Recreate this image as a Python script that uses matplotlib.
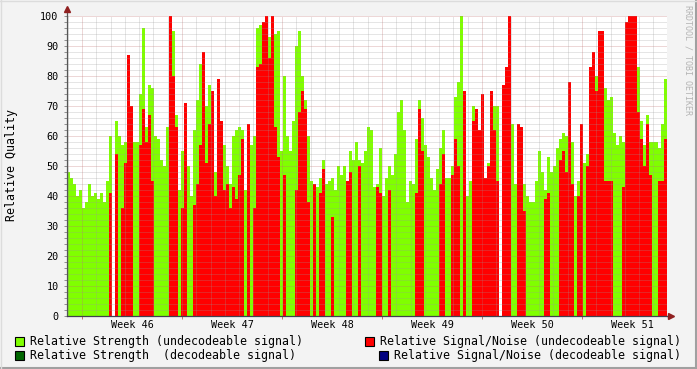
import numpy as np
import matplotlib.pyplot as plt
from matplotlib.patches import Rectangle

# one sample = 3 px of the original graph (about 5 hours)
strength = [
    48, 46, 44, 40, 42, 36, 38, 44, 40, 41,
    39, 41, 38, 45, 60, 0, 65, 60, 57, 58,
    77, 60, 58, 58, 74, 96, 63, 77, 76, 60,
    59, 52, 50, 63, 67, 95, 67, 42, 55, 68,
    50, 40, 62, 72, 84, 75, 70, 77, 74, 48,
    55, 60, 57, 50, 44, 60, 62, 63, 62, 42,
    58, 57, 60, 96, 97, 96, 93, 93, 90, 94,
    95, 55, 80, 60, 55, 65, 90, 95, 80, 72,
    60, 45, 44, 43, 46, 52, 44, 45, 46, 42,
    50, 47, 50, 45, 55, 52, 58, 52, 51, 55,
    63, 62, 43, 44, 56, 40, 46, 50, 47, 54,
    68, 72, 62, 38, 45, 44, 59, 72, 66, 57,
    53, 46, 42, 49, 56, 62, 46, 46, 50, 73,
    78, 100, 75, 40, 45, 70, 63, 60, 56, 45,
    51, 50, 70, 70, 0, 65, 60, 70, 64, 44,
    55, 47, 44, 40, 38, 38, 45, 55, 48, 42,
    53, 48, 50, 56, 59, 61, 60, 62, 58, 40,
    45, 60, 51, 54, 62, 78, 80, 80, 73, 76,
    72, 73, 61, 57, 60, 58, 60, 98, 99, 84,
    83, 65, 57, 67, 58, 58, 58, 56, 64, 79,
]
snr = [
    0, 0, 0, 0, 0, 0, 0, 0, 0, 0,
    0, 0, 0, 0, 41, 0, 54, 0, 36, 51,
    87, 70, 0, 0, 57, 69, 58, 67, 45, 0,
    0, 0, 0, 0, 100, 80, 63, 0, 36, 71,
    0, 0, 37, 44, 57, 88, 51, 64, 75, 40,
    79, 65, 42, 44, 36, 43, 39, 47, 59, 0,
    64, 0, 36, 83, 84, 98, 100, 86, 100, 63,
    53, 0, 47, 0, 0, 0, 42, 68, 75, 69,
    38, 0, 44, 0, 41, 49, 0, 0, 33, 0,
    0, 0, 0, 45, 48, 0, 0, 50, 0, 0,
    0, 0, 0, 43, 41, 0, 0, 42, 0, 0,
    0, 0, 0, 0, 0, 0, 41, 69, 55, 0,
    0, 0, 0, 0, 44, 54, 0, 0, 47, 59,
    50, 0, 75, 0, 0, 65, 69, 62, 74, 46,
    50, 75, 62, 45, 0, 77, 83, 100, 0, 0,
    64, 63, 35, 0, 0, 0, 0, 0, 0, 39,
    41, 0, 0, 0, 52, 55, 48, 78, 44, 0,
    40, 64, 0, 50, 83, 88, 75, 95, 95, 45,
    45, 45, 0, 0, 0, 43, 98, 100, 100, 100,
    68, 59, 50, 64, 47, 0, 0, 45, 45, 59,
]
week_labels = ['Week 46', 'Week 47', 'Week 48', 'Week 49', 'Week 50', 'Week 51']
legend_items = [
    ('Relative Strength (undecodeable signal)', '#80ff00'),
    ('Relative Strength  (decodeable signal)', '#006600'),
    ('Relative Signal/Noise (undecodeable signal)', '#ff0000'),
    ('Relative Signal/Noise (decodeable signal)', '#000080'),
]

start = -1.05   # days, relative to monday of week 46
step = 0.21     # days per sample

W, H = 697, 369
mono = 'DejaVu Sans Mono'
fig = plt.figure(figsize=(W / 100, H / 100), dpi=100, facecolor='#f3f3f3')
ax = fig.add_axes([67 / W, 53 / H, 600 / W, 300 / H])
ax.set_facecolor('white')

g = np.array(strength, dtype=float)
r = np.array(snr, dtype=float)
t = start + step * np.arange(len(g))
end = t[-1] + step

ax.bar(t, g, width=step, align='edge', color='#80ff00', linewidth=0,
       antialiased=False, zorder=2)
m = r > 0
ax.bar(t[m], r[m], width=step, align='edge', color='#ff0000', linewidth=0,
       antialiased=False, zorder=3)

ax.set_xlim(start, end)
ax.set_ylim(0, 100)

# rrdtool style dotted grid, drawn over the data
dot = (0, (1, 1))
for v in range(2, 101, 2):
    if v % 10:
        ax.axhline(v, color='#9a9a9a', alpha=0.5, lw=0.72, ls=dot, zorder=4)
for v in range(10, 101, 10):
    ax.axhline(v, color='#c07070', alpha=0.55, lw=0.72, ls=dot, zorder=4)
for d in range(-1, 42):
    if d % 7:
        ax.axvline(d, color='#9a9a9a', alpha=0.5, lw=0.72, ls=dot, zorder=4)
for d in range(0, 42, 7):
    ax.axvline(d, color='#c07070', alpha=0.55, lw=0.72, ls=dot, zorder=4)

for s in ['top', 'right']:
    ax.spines[s].set_visible(False)
ax.spines['left'].set_color('#555555')
ax.spines['bottom'].set_color('#404050')
ax.spines['left'].set_linewidth(0.9)
ax.spines['bottom'].set_linewidth(0.9)
ax.spines['left'].set_zorder(6)
ax.spines['bottom'].set_zorder(6)

# arrow heads at the axis ends
ax.plot([start, start], [100, 101.5], color='#555555', lw=0.9, clip_on=False, zorder=6)
ax.plot([start], [102.3], marker='^', ms=4.5, color='#902020', mec='#902020',
        clip_on=False, zorder=7)
ax.plot([end, end + 0.15], [0, 0], color='#404050', lw=0.9, clip_on=False, zorder=6)
ax.plot([end + 0.3], [0], marker='>', ms=4.5, color='#902020', mec='#902020',
        clip_on=False, zorder=7)

ax.set_yticks(range(0, 101, 10))
ax.set_yticks(range(0, 101, 2), minor=True)
ax.set_yticklabels([str(v) for v in range(0, 101, 10)], fontsize=7.3,
                   family=mono)
ax.tick_params(axis='y', which='both', length=2, width=0.7, color='#909090',
               pad=4)

ax.set_xticks([3.5 + 7 * k for k in range(len(week_labels))])
ax.set_xticklabels(week_labels, fontsize=7.3, family=mono)
ax.set_xticks(range(0, 41, 7), minor=True)
ax.tick_params(axis='x', which='major', length=0, pad=3)
ax.tick_params(axis='x', which='minor', length=2, width=0.7, color='#c07070')

fig.text(12 / W, 1 - 165 / H, 'Relative Quality', rotation=90, ha='center',
         va='center', fontsize=8.4, family=mono)
fig.text(688 / W, 1 - 5 / H, 'RRDTOOL / TOBI OETIKER', rotation=-90,
         ha='center', va='top', fontsize=6, family=mono, color='#b4b4b4')

# legend, laid out like rrdtool does it
spots = [(15, 30, 341.5), (15, 30, 355.5), (365, 380, 341.5), (379, 394, 355.5)]
for (label, col), (bx, tx, ty) in zip(legend_items, spots):
    fig.patches.append(Rectangle((bx / W, 1 - (ty + 4.5) / H), 9 / W, 9 / H,
                                 transform=fig.transFigure, facecolor=col,
                                 edgecolor='black', lw=0.8))
    fig.text(tx / W, 1 - ty / H, label, ha='left', va='center', fontsize=8.4,
             family=mono)

# 3d frame
fig.add_artist(plt.Line2D([0, 1], [1 / H, 1 / H], color='#a0a0a0', lw=1.5,
                          transform=fig.transFigure))
fig.add_artist(plt.Line2D([1 - 1 / W, 1 - 1 / W], [0, 1], color='#a0a0a0', lw=1.5,
                          transform=fig.transFigure))
fig.add_artist(plt.Line2D([0, 1], [1 - 0.5 / H, 1 - 0.5 / H], color='#dcdcdc',
                          lw=1, transform=fig.transFigure))
fig.add_artist(plt.Line2D([0.5 / W, 0.5 / W], [0, 1], color='#dcdcdc', lw=1,
                          transform=fig.transFigure))

fig.savefig('out.png', dpi=100, facecolor=fig.get_facecolor())
